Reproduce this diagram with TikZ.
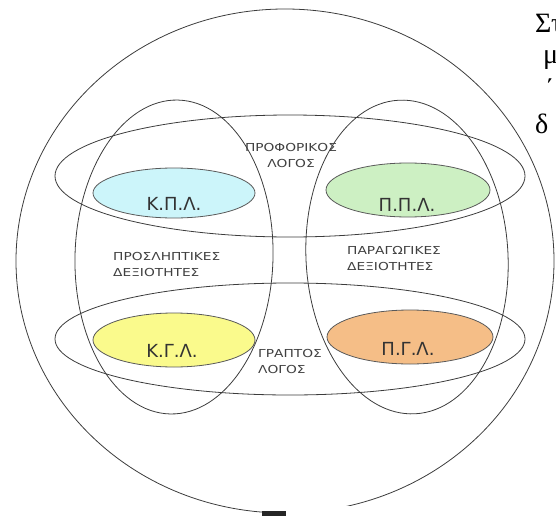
\documentclass[tikz,border=0pt]{standalone}
\usepackage{fontspec}
\setmainfont{Liberation Serif}
\newfontfamily\widefont[FakeStretch=1.25]{DejaVu Sans}
\newfontfamily\tagfont{DejaVu Sans}
\usepackage{tikz}
\definecolor{kplblue}{RGB}{204,245,250}
\definecolor{pplgreen}{RGB}{205,240,195}
\definecolor{kglyellow}{RGB}{250,250,140}
\definecolor{pglorange}{RGB}{245,190,135}
\definecolor{ink}{RGB}{60,60,60}

\begin{document}
\begin{tikzpicture}[x=1pt,y=-1pt,
	ring/.style={draw=ink,line width=0.8pt},
	spot/.style={draw=black!65,line width=0.8pt},
	caps/.style={inner sep=0pt,text=black!75,font=\widefont\fontsize{11}{16}\selectfont},
	tag/.style={inner sep=0pt,anchor=base,text=black!80,font=\tagfont\fontsize{18}{18}\selectfont},
	side/.style={inner sep=0pt,anchor=base west,font=\fontsize{28}{28}\selectfont}]
	\useasboundingbox (0,0) rectangle (556,516);
	% outer circle, cut at the bottom
	\draw[ring] (285,261) ellipse (269 and 252);
	\fill[white] (286,506) rectangle (556,516);
	\fill[black!85] (262,511) rectangle (286,516);
	% spoken and written
	\draw[ring] (290,176) ellipse (235 and 61);
	\draw[ring] (290,339) ellipse (235 and 56);
	% receptive and productive
	\draw[ring,rotate around={-1.5:(174,257)}] (174,257) ellipse (99 and 157);
	\draw[ring,rotate around={3:(407,257)}] (407,257) ellipse (101 and 157);
	% the four skills
	\filldraw[spot,fill=kplblue] (174,193) ellipse (81 and 25);
	\filldraw[spot,fill=pplgreen] (408,190) ellipse (82 and 27);
	\filldraw[spot,fill=kglyellow] (174,340) ellipse (81 and 27);
	\filldraw[spot,fill=pglorange] (410,337) ellipse (83 and 27);
	\node[tag] (kpl) at (174,210) {Κ.Π.Λ.};
	\node[tag] (ppl) at (407,211) {Π.Π.Λ.};
	\node[tag] (kgl) at (172,357) {Κ.Γ.Λ.};
	\node[tag] (pgl) at (408,355) {Π.Γ.Λ.};
	% captions
	\node[caps,align=center,anchor=north] (oral) at (291,143) {ΠΡΟΦΟΡΙΚΟΣ\\ΛΟΓΟΣ};
	\node[caps,align=left,anchor=north west] (written) at (258,349) {ΓΡΑΠΤΟΣ\\ΛΟΓΟΣ};
	\node[caps,align=left,anchor=north west] (recept) at (113,252) {ΠΡΟΣΛΗΠΤΙΚΕΣ\\ΔΕΞΙΟΤΗΤΕΣ};
	\node[caps,align=left,anchor=north west] (product) at (347,246) {ΠΑΡΑΓΩΓΙΚΕΣ\\ΔΕΞΙΟΤΗΤΕΣ};
	% text cut off at the right
	\node[side] (line1) at (535,33) {Στ};
	\node[side] (line2) at (543,64) {μ};
	\node[side] (line3) at (545,99) {΄};
	\node[side] (line4) at (535,133) {δ};
\end{tikzpicture}
\end{document}
